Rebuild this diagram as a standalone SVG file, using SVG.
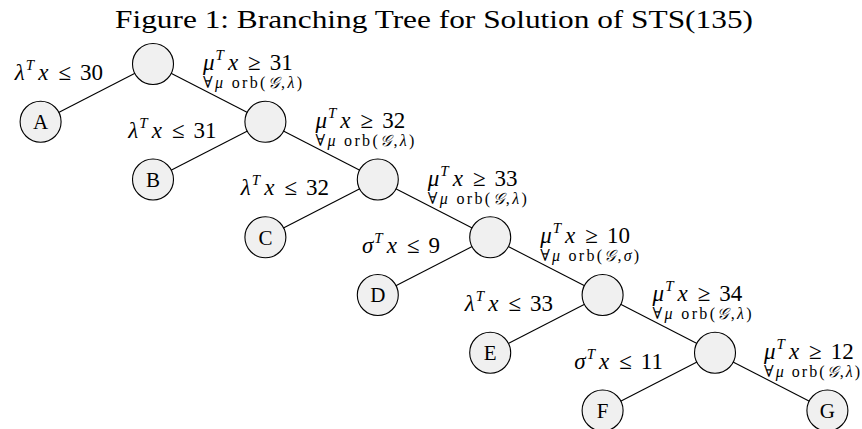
<svg xmlns="http://www.w3.org/2000/svg" width="862" height="429" viewBox="0 0 862 429">
<style>
text{font-family:"Liberation Serif","DejaVu Serif",serif;fill:#000}
.title{font-size:25px}
.lab{font-size:23px}
.sub{font-size:16px}
.i{font-style:italic}
.sup{font-size:15px;font-style:italic}
.node circle{fill:#f0f0f0;stroke:#000;stroke-width:1.1}
.node text{font-size:21px;text-anchor:middle}
#edges line{stroke:#000;stroke-width:1.1}
.l{text-anchor:end}
</style>
<rect width="862" height="429" fill="#fff"/>
<text class="title" x="115" y="28" textLength="638" lengthAdjust="spacingAndGlyphs">Figure 1: Branching Tree for Solution of STS(135)</text>
<g id="edges">
<line x1="153" y1="64" x2="40.6" y2="121.75"/>
<line x1="153" y1="64" x2="265.4" y2="121.75"/>
<line x1="265.4" y1="121.75" x2="153" y2="179.5"/>
<line x1="265.4" y1="121.75" x2="377.8" y2="179.5"/>
<line x1="377.8" y1="179.5" x2="265.4" y2="237.25"/>
<line x1="377.8" y1="179.5" x2="490.2" y2="237.25"/>
<line x1="490.2" y1="237.25" x2="377.8" y2="295"/>
<line x1="490.2" y1="237.25" x2="602.6" y2="295"/>
<line x1="602.6" y1="295" x2="490.2" y2="352.75"/>
<line x1="602.6" y1="295" x2="715" y2="352.75"/>
<line x1="715" y1="352.75" x2="602.6" y2="410.5"/>
<line x1="715" y1="352.75" x2="827.4" y2="410.5"/>
</g>
<g id="n1" class="node"><circle cx="153" cy="64" r="20.5"/></g>
<g id="n2" class="node"><circle cx="265.4" cy="121.75" r="20.5"/></g>
<g id="n3" class="node"><circle cx="377.8" cy="179.5" r="20.5"/></g>
<g id="n4" class="node"><circle cx="490.2" cy="237.25" r="20.5"/></g>
<g id="n5" class="node"><circle cx="602.6" cy="295" r="20.5"/></g>
<g id="n6" class="node"><circle cx="715" cy="352.75" r="20.5"/></g>
<g id="A" class="node"><circle cx="40.6" cy="121.75" r="20.5"/><text x="40.6" y="129">A</text></g>
<g id="B" class="node"><circle cx="153" cy="179.5" r="20.5"/><text x="153" y="186.8">B</text></g>
<g id="C" class="node"><circle cx="265.4" cy="237.25" r="20.5"/><text x="265.4" y="244.5">C</text></g>
<g id="D" class="node"><circle cx="377.8" cy="295" r="20.5"/><text x="377.8" y="302.3">D</text></g>
<g id="E" class="node"><circle cx="490.2" cy="352.75" r="20.5"/><text x="490.2" y="360">E</text></g>
<g id="F" class="node"><circle cx="602.6" cy="410.5" r="20.5"/><text x="602.6" y="417.8">F</text></g>
<g id="G" class="node"><circle cx="827.4" cy="410.5" r="20.5"/><text x="827.4" y="417.8">G</text></g>
<g id="labels">
<text class="lab l" x="103" y="80"><tspan class="i">λ</tspan><tspan class="sup" dy="-10" dx="1">T</tspan><tspan class="i" dy="10" dx="4">x</tspan><tspan dx="10">≤</tspan><tspan dx="9">30</tspan></text>
<text class="lab l" x="216.5" y="137.5"><tspan class="i">λ</tspan><tspan class="sup" dy="-10" dx="1">T</tspan><tspan class="i" dy="10" dx="4">x</tspan><tspan dx="10">≤</tspan><tspan dx="9">31</tspan></text>
<text class="lab l" x="329" y="195.3"><tspan class="i">λ</tspan><tspan class="sup" dy="-10" dx="1">T</tspan><tspan class="i" dy="10" dx="4">x</tspan><tspan dx="10">≤</tspan><tspan dx="9">32</tspan></text>
<text class="lab l" x="440" y="253"><tspan class="i">σ</tspan><tspan class="sup" dy="-10" dx="1">T</tspan><tspan class="i" dy="10" dx="4">x</tspan><tspan dx="10">≤</tspan><tspan dx="9">9</tspan></text>
<text class="lab l" x="553" y="310.8"><tspan class="i">λ</tspan><tspan class="sup" dy="-10" dx="1">T</tspan><tspan class="i" dy="10" dx="4">x</tspan><tspan dx="10">≤</tspan><tspan dx="9">33</tspan></text>
<text class="lab l" x="663" y="368.5"><tspan class="i">σ</tspan><tspan class="sup" dy="-10" dx="1">T</tspan><tspan class="i" dy="10" dx="4">x</tspan><tspan dx="10">≤</tspan><tspan dx="9">11</tspan></text>

<text class="lab" x="203" y="70"><tspan class="i">μ</tspan><tspan class="sup" dy="-10" dx="1">T</tspan><tspan class="i" dy="10" dx="4">x</tspan><tspan dx="10">≥</tspan><tspan dx="9">31</tspan></text>
<text class="sub" x="203" y="88" textLength="99" lengthAdjust="spacing">∀<tspan class="i">μ</tspan> orb(<tspan class="i">𝒢</tspan>,<tspan class="i">λ</tspan>)</text>
<text class="lab" x="315.4" y="127.75"><tspan class="i">μ</tspan><tspan class="sup" dy="-10" dx="1">T</tspan><tspan class="i" dy="10" dx="4">x</tspan><tspan dx="10">≥</tspan><tspan dx="9">32</tspan></text>
<text class="sub" x="315.4" y="145.75" textLength="99" lengthAdjust="spacing">∀<tspan class="i">μ</tspan> orb(<tspan class="i">𝒢</tspan>,<tspan class="i">λ</tspan>)</text>
<text class="lab" x="427.8" y="185.5"><tspan class="i">μ</tspan><tspan class="sup" dy="-10" dx="1">T</tspan><tspan class="i" dy="10" dx="4">x</tspan><tspan dx="10">≥</tspan><tspan dx="9">33</tspan></text>
<text class="sub" x="427.8" y="203.5" textLength="99" lengthAdjust="spacing">∀<tspan class="i">μ</tspan> orb(<tspan class="i">𝒢</tspan>,<tspan class="i">λ</tspan>)</text>
<text class="lab" x="540.2" y="243.25"><tspan class="i">μ</tspan><tspan class="sup" dy="-10" dx="1">T</tspan><tspan class="i" dy="10" dx="4">x</tspan><tspan dx="10">≥</tspan><tspan dx="9">10</tspan></text>
<text class="sub" x="540.2" y="261.25" textLength="99" lengthAdjust="spacing">∀<tspan class="i">μ</tspan> orb(<tspan class="i">𝒢</tspan>,<tspan class="i">σ</tspan>)</text>
<text class="lab" x="652.6" y="301"><tspan class="i">μ</tspan><tspan class="sup" dy="-10" dx="1">T</tspan><tspan class="i" dy="10" dx="4">x</tspan><tspan dx="10">≥</tspan><tspan dx="9">34</tspan></text>
<text class="sub" x="652.6" y="319" textLength="99" lengthAdjust="spacing">∀<tspan class="i">μ</tspan> orb(<tspan class="i">𝒢</tspan>,<tspan class="i">λ</tspan>)</text>
<text class="lab" x="764" y="358.75"><tspan class="i">μ</tspan><tspan class="sup" dy="-10" dx="1">T</tspan><tspan class="i" dy="10" dx="4">x</tspan><tspan dx="10">≥</tspan><tspan dx="9">12</tspan></text>
<text class="sub" x="764" y="376.75" textLength="96" lengthAdjust="spacing">∀<tspan class="i">μ</tspan> orb(<tspan class="i">𝒢</tspan>,<tspan class="i">λ</tspan>)</text>
</g>
</svg>
